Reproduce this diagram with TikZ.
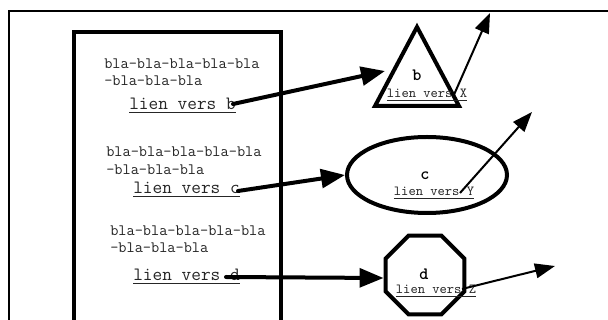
\documentclass[tikz,border=0pt]{standalone}
\usepackage{fontspec}
\newfontfamily\boldtt{lmmonolt10-bold.otf}
\usetikzlibrary{arrows.meta,shapes.geometric}
\begin{document}
\begin{tikzpicture}[x=0.75pt,y=-0.75pt,
  txt/.style={anchor=base west,inner sep=0pt,text=black!85,font=\fontsize{11.9}{13}\selectfont\ttfamily},
  lnk/.style={anchor=base west,inner sep=0pt,text=black!85,font=\fontsize{14.1}{16}\selectfont\ttfamily},
  small/.style={anchor=base,inner sep=0pt,text=black!85,font=\fontsize{10.4}{12}\selectfont\ttfamily},
  letter/.style={anchor=base,inner sep=0pt,font=\fontsize{13}{15}\selectfont\boldtt},
  shapeline/.style={line width=3pt,line join=miter},
  bigarrow/.style={line width=3pt,line cap=round,-{Triangle[length=18pt,width=14pt]}},
  thinarrow/.style={line width=1.5pt,-{Triangle[length=15pt,width=11pt]}}]
\useasboundingbox (0,0) rectangle (608,320);
\clip (0,0) rectangle (608,320);
\fill[white] (0,0) rectangle (608,320);
% page frame and text column
\draw[line width=1.5pt] (9,11) rectangle (640,360);
\draw[line width=3pt] (74,32) rectangle (281,360);

% text column contents
\node[txt] (t1a) at (104,69) {bla-bla-bla-bla-bla};
\node[txt] (t1b) at (104,86) {-bla-bla-bla};
\node[lnk] (lb) at (129,110) {\underline{lien vers b}};
\node[txt] (t2a) at (106,157) {bla-bla-bla-bla-bla};
\node[txt] (t2b) at (106,175) {-bla-bla-bla};
\node[lnk] (lc) at (133,194) {\underline{lien vers c}};
\node[txt] (t3a) at (110,236) {bla-bla-bla-bla-bla};
\node[txt] (t3b) at (110,253) {-bla-bla-bla};
\node[lnk] (ld) at (133,281) {\underline{lien vers d}};

\coordinate (lbe) at (233,104);
\coordinate (lce) at (238,191);
\coordinate (lde) at (226,277);

% page b : triangle
\coordinate (ta) at (417,27);
\coordinate (tl) at (375,106);
\coordinate (tr) at (459,106);
\draw[shapeline] (ta) -- (tl) -- (tr) -- cycle;
\node[letter] (b) at (417,81) {b};
\node[small] (lx) at (427,98) {\underline{lien vers X}};
\coordinate (tin) at (385,71);

% page c : ellipse
\node[draw,shapeline,ellipse,minimum width=120pt,minimum height=57pt,inner sep=0pt] (c) at (427,175) {};
\node[letter] (cl) at (425,180) {c};
\node[small] (ly) at (434,196) {\underline{lien vers Y}};

% page d : octagon
\node[draw,shapeline,regular polygon,regular polygon sides=8,minimum size=64pt,inner sep=0pt] (d) at (425,275) {};
\node[letter] (dl) at (424,280) {d};
\node[small] (lz) at (436,294) {\underline{lien vers Z}};

% outgoing links
\coordinate (xo) at (490,13);
\coordinate (yo) at (532,112);
\coordinate (zo) at (555,266);
\coordinate (xs) at (453,97);
\coordinate (ys) at (460,193);
\coordinate (zs) at (462,289);

\draw[bigarrow] (lbe) -- (tin);
\draw[bigarrow] (lce) -- (c.west);
\draw[bigarrow] (lde) -- (d.west |- 0,278);
\draw[thinarrow] (xs) -- (xo);
\draw[thinarrow] (ys) -- (yo);
\draw[thinarrow] (zs) -- (zo);
\end{tikzpicture}
\end{document}
